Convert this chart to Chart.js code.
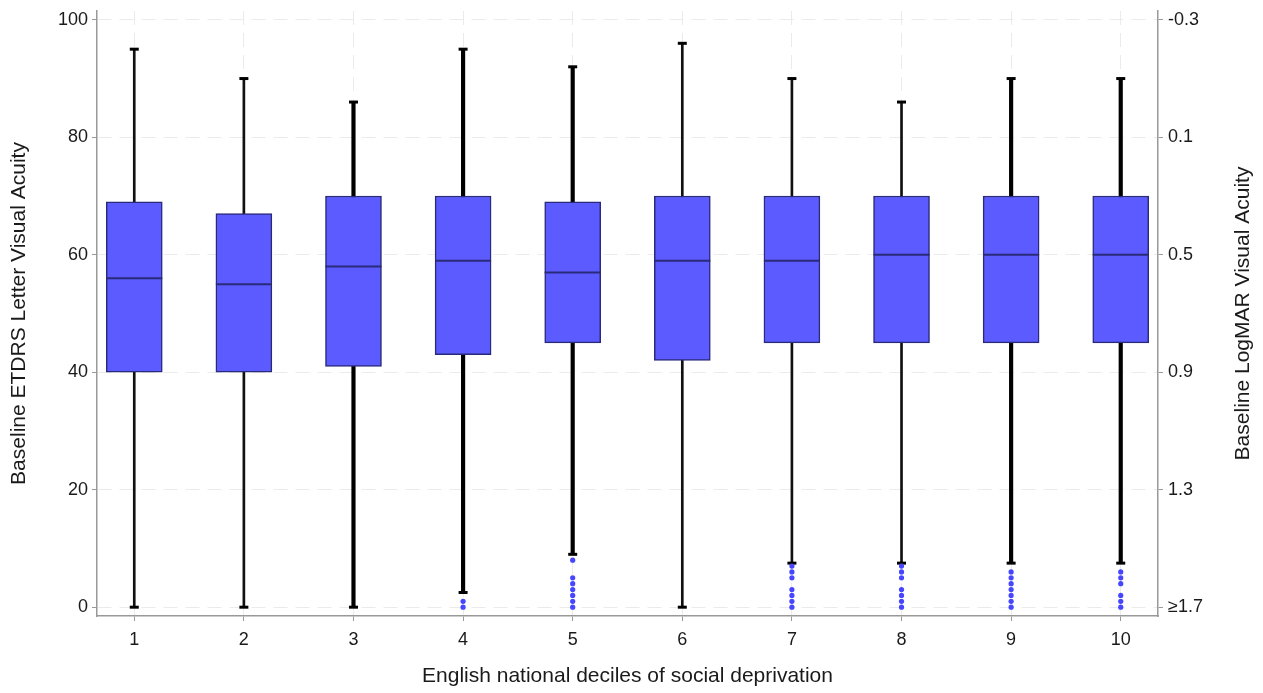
<!DOCTYPE html>
<html>
<head>
<meta charset="utf-8">
<script src="https://cdn.jsdelivr.net/npm/chart.js@4/dist/chart.umd.min.js"></script>
<style>
  html, body { margin: 0; padding: 0; background: #fff; }
  #wrap { width: 1263px; height: 693px; }
</style>
</head>
<body>
<div id="wrap"><canvas id="myChart" width="1263" height="693"></canvas></div>
<script>
// box plot values, one entry per decile
var deciles = [1, 2, 3, 4, 5, 6, 7, 8, 9, 10];
var whiskerLow = [0, 0, 0, 2.5, 9, 0, 7.5, 7.5, 7.5, 7.5];
var q1 = [40, 40, 41, 43, 45, 42, 45, 45, 45, 45];
var median = [56, 55, 58, 59, 57, 59, 59, 60, 60, 60];
var q3 = [69, 67, 70, 70, 69, 70, 70, 70, 70, 70];
var whiskerHigh = [95, 90, 86, 95, 92, 96, 90, 86, 90, 90];
var outliers = [
    [], [], [], [0, 1], [8, 5, 4, 3, 2, 1, 0], [],
    [7, 6, 5, 3, 2, 1, 0], [7, 6, 5, 3, 2, 1, 0], [6, 5, 4, 3, 2, 1, 0], [6, 5, 4, 2, 1, 0]
];
var etdrsTicks = [0, 20, 40, 60, 80, 100];
var logmarLabels = ['≥1.7', '1.3', '0.9', '0.5', '0.1', '-0.3'];
var rightTitle = 'Baseline LogMAR Visual Acuity';

// deciles drawn with the heavier whisker stroke
var heavyWhisker = [3, 4, 5, 9, 10];

var font = 'Liberation Sans, Arial, sans-serif';
var tickSize = 18;
var titleSize = 21;
var textColor = '#1a1a1a';
var boxFill = '#5b5bff';
var boxEdge = '#2a2a7a';

function whiskers(heavy) {
    var out = [];
    deciles.forEach(function (d, i) {
        if ((heavyWhisker.indexOf(d) >= 0) === heavy) {
            out.push({ x: d, y: [whiskerLow[i], whiskerHigh[i]] });
        }
    });
    return out;
}

var boxes = deciles.map(function (d, i) { return { x: d, y: [q1[i], q3[i]] }; });
var medians = deciles.map(function (d, i) { return { x: d, y: median[i] }; });
var caps = [];
deciles.forEach(function (d, i) {
    caps.push({ x: d, y: whiskerHigh[i] });
    caps.push({ x: d, y: whiskerLow[i] });
});
var outlierPts = [];
deciles.forEach(function (d, i) {
    outliers[i].forEach(function (v) { outlierPts.push({ x: d, y: v }); });
});

function fixTicks(list) {
    return function (scale) {
        scale.ticks = list.map(function (v) { return { value: v }; });
    };
}

function fitWidth(w) {
    return function (scale) {
        scale.width = w;
        scale.paddingTop = 0;
        scale.paddingBottom = 0;
    };
}

// right-hand title reads bottom-to-top like the left one
var rightTitlePlugin = {
    id: 'rightTitle',
    afterDraw: function (chart) {
        var c = chart.ctx;
        var a = chart.chartArea;
        c.save();
        c.translate(1243, (a.top + a.bottom) / 2);
        c.rotate(-Math.PI / 2);
        c.fillStyle = textColor;
        c.font = titleSize + 'px ' + font;
        c.textAlign = 'center';
        c.textBaseline = 'middle';
        c.fillText(rightTitle, 0, 0);
        c.restore();
    }
};

var ctx = document.getElementById('myChart').getContext('2d');
var chart = new Chart(ctx, {
    type: 'bar',
    data: {
        datasets: [
            {
                type: 'scatter',
                data: outlierPts,
                pointRadius: 2.6,
                pointBackgroundColor: '#4646ff',
                pointBorderWidth: 0,
                order: 0
            },
            {
                type: 'scatter',
                data: medians,
                pointStyle: 'line',
                pointRadius: 28,
                pointBorderColor: boxEdge,
                pointBorderWidth: 2,
                order: 1
            },
            {
                data: boxes,
                backgroundColor: boxFill,
                borderColor: boxEdge,
                borderWidth: 1.5,
                borderSkipped: false,
                barThickness: 56,
                grouped: false,
                order: 2
            },
            {
                type: 'scatter',
                data: caps,
                pointStyle: 'line',
                pointRadius: 4.5,
                pointBorderColor: '#000',
                pointBorderWidth: 3,
                order: 3
            },
            {
                data: whiskers(false),
                backgroundColor: '#111',
                borderWidth: 0,
                barThickness: 2,
                grouped: false,
                order: 4
            },
            {
                data: whiskers(true),
                backgroundColor: '#000',
                borderWidth: 0,
                barThickness: 3.5,
                grouped: false,
                order: 5
            }
        ]
    },
    options: {
        responsive: false,
        animation: false,
        events: [],
        layout: { autoPadding: false, padding: { top: 11, left: 0, right: 0, bottom: 0 } },
        plugins: {
            legend: { display: false },
            tooltip: { enabled: false }
        },
        scales: {
            x: {
                type: 'linear',
                offset: false,
                min: 0.66,
                max: 10.34,
                afterBuildTicks: fixTicks(deciles),
                afterFit: function (scale) {
                    scale.height = 77;
                    scale.paddingLeft = 0;
                    scale.paddingRight = 0;
                },
                grid: { offset: false, color: '#ebebeb', tickColor: '#999', tickLength: 5, lineWidth: 1 },
                border: { color: '#999', width: 1.5, dash: [14, 8] },
                ticks: { color: textColor, font: { family: font, size: tickSize }, padding: 8, maxRotation: 0 },
                title: {
                    display: true,
                    text: 'English national deciles of social deprivation',
                    color: textColor,
                    font: { family: font, size: titleSize },
                    padding: { top: 0, bottom: 4 }
                }
            },
            y: {
                position: 'left',
                min: -1.5,
                max: 101.5,
                afterBuildTicks: fixTicks(etdrsTicks),
                afterFit: fitWidth(97),
                grid: { color: '#ebebeb', tickColor: '#999', tickLength: 5, lineWidth: 1 },
                border: { color: '#999', width: 1.5, dash: [14, 8] },
                ticks: { color: textColor, font: { family: font, size: tickSize }, padding: 4 },
                title: {
                    display: true,
                    text: 'Baseline ETDRS Letter Visual Acuity',
                    color: textColor,
                    font: { family: font, size: titleSize },
                    padding: { top: 7, bottom: 0 }
                }
            },
            y2: {
                position: 'right',
                min: -1.5,
                max: 101.5,
                afterBuildTicks: fixTicks(etdrsTicks),
                afterFit: fitWidth(105),
                grid: { drawOnChartArea: false, tickColor: '#999', tickLength: 5 },
                border: { color: '#999', width: 1.5 },
                ticks: {
                    color: textColor,
                    font: { family: font, size: tickSize },
                    padding: 5,
                    callback: function (value) {
                        return logmarLabels[etdrsTicks.indexOf(value)];
                    }
                }
            }
        }
    },
    plugins: [rightTitlePlugin]
});
</script>
</body>
</html>
